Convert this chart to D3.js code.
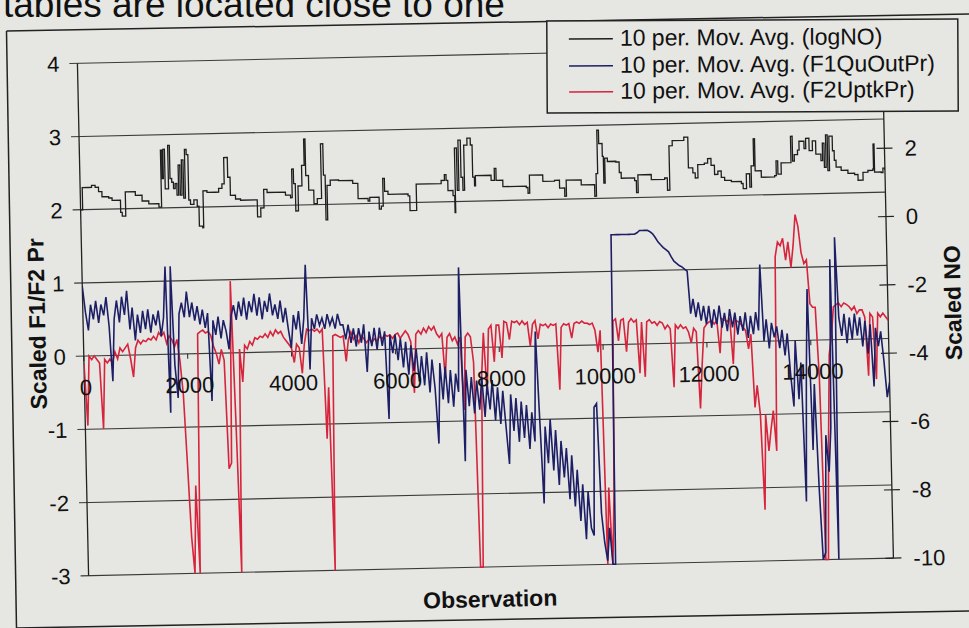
<!DOCTYPE html>
<html><head><meta charset="utf-8">
<script src="https://cdn.jsdelivr.net/npm/d3@7"></script>
<style>
body{margin:0;background:#e6e6e2;}
svg{display:block;font-family:"Liberation Sans",Arial,sans-serif;}
</style></head>
<body>
<svg id="chart" width="969" height="628"></svg>
<script>
// ---------- data ----------
const leftTicks = [-3, -2, -1, 0, 1, 2, 3, 4];
const rightTicks = [-10, -8, -6, -4, -2, 0, 2, 4];
const xTicks = [0, 2000, 4000, 6000, 8000, 10000, 12000, 14000];
const seriesNames = ["10 per. Mov. Avg. (logNO)", "10 per. Mov. Avg. (F1QuOutPr)", "10 per. Mov. Avg. (F2UptkPr)"];
const seriesColors = ["#1e1e1e", "#1d1f66", "#d6243c"];
const obsStep = 50; // F1 / F2 sampled every 50 observations

const f1Values = [
 0.95,0.6,0.35,0.7,0.5,0.75,0.45,0.7,0.55,0.8,0.4,-0.35,0.5,0.75,0.45,0.8,0.55,0.88,0.35,0.65,
 0.2,0.55,0.3,0.6,0.35,0.62,0.3,0.55,0.4,0.6,0.25,0.5,1.2,-0.8,1.2,-0.15,-0.6,0.55,0.7,0.5,
 0.85,0.5,0.7,0.45,0.65,0.4,0.6,0.35,0.55,-0.65,0.45,0.25,0.5,0.2,0.45,0.3,0.05,0.5,0.65,0.45,
 0.7,0.5,0.75,0.45,0.7,0.55,0.8,0.5,0.75,0.45,0.7,0.55,0.8,0.5,0.65,0.45,0.7,0.4,0.6,0.3,
 0.05,0.5,0.3,0.55,0.1,0.45,1.18,-0.25,0.45,0.3,0.5,0.35,0.45,0.3,0.5,0.35,0.45,0.3,0.5,0.35,
 0.35,0.15,0.35,0.1,0.3,0.05,0.3,0.1,0.35,-0.3,0.25,0.05,0.3,0.0,0.3,0.05,0.25,-0.95,0.2,-0.05,
 0.2,-0.15,0.15,-0.25,0.1,-0.35,0.05,-0.3,0.0,-0.45,-0.1,-0.5,-0.05,-0.6,-0.15,-0.55,-1.3,-0.2,-0.7,-0.25,
 -0.75,-0.3,-0.8,-0.35,-0.6,1.1,-1.55,-0.3,-0.8,-0.4,-0.9,-0.45,-0.85,-0.4,-0.95,-0.5,-0.85,-0.45,-1.0,-0.55,
 -1.05,-0.6,-1.1,-1.6,-0.65,-1.15,-0.7,-1.3,-0.75,-1.25,-0.8,-1.4,-0.9,-1.3,0.2,-1.0,-2.15,-1.1,-1.6,-1.0,
 -1.7,-1.15,-1.9,-1.3,-1.8,-1.4,-2.1,-1.5,-2.2,-1.7,-2.4,-1.9,-2.65,-2.0,-2.5,-2.6,-0.85,-0.8,-2.3,-2.7,
 -2.95,-2.5,-3.0,-3.0,1.5,1.5,1.5,1.5,1.5,1.5,1.5,1.5,1.5,1.5,1.52,1.55,1.55,1.55,1.55,1.53,
 1.5,1.45,1.39,1.35,1.31,1.28,1.25,1.18,1.12,1.09,1.06,1.04,1.01,0.98,0.4,0.6,0.35,0.55,0.3,0.5,
 0.25,0.5,0.2,0.45,0.25,0.5,0.2,0.4,0.15,0.45,0.2,0.4,0.1,0.35,0.15,0.4,0.05,0.35,0.1,0.4,
 0.15,1.05,0.0,0.3,-0.1,0.25,0.05,0.2,-0.1,0.15,-0.2,0.1,-0.47,-0.9,0.0,-0.8,-0.3,-2.2,-0.5,0.7,
 -1.5,-0.6,-2.0,-3.0,-2.9,-1.3,-1.8,-1.2,1.1,-3.0,1.4,0.3,0.05,0.35,-0.05,0.3,0.0,0.35,0.05,0.3,
 -0.1,0.25,-0.2,0.2,-0.65,0.15,-0.1,0.1,-0.3,-0.8,-0.6
];

const f2Values = [
 -0.1,-0.95,0.0,-0.05,0.0,-0.05,-0.1,-1.0,-0.05,-0.1,-0.05,-0.1,0.05,-0.05,0.1,0.05,0.1,0.15,-0.05,-0.3,
 0.1,0.2,0.15,0.2,0.18,0.22,0.2,0.25,0.2,0.3,0.25,0.3,0.15,0.25,0.2,0.1,0.2,-0.1,-0.55,-1.5,
 -2.5,-3.0,-1.8,-3.0,0.27,0.3,0.32,0.28,0.3,0.25,0.1,0.0,-0.15,0.05,-0.1,-1.58,-1.5,0.98,-0.9,-3.0,
 0.05,-0.4,0.1,0.05,0.15,0.1,0.2,0.18,0.22,0.2,0.25,0.2,0.28,0.22,0.3,0.25,0.28,0.2,0.15,0.1,
 0.05,-0.15,0.1,0.05,-0.3,0.1,0.3,0.28,0.3,0.27,0.3,0.25,0.3,-1.2,-0.5,-3.0,0.2,0.22,0.2,0.18,
 0.2,-0.15,0.15,0.25,0.15,0.2,0.1,0.2,0.15,0.1,0.15,0.1,0.15,0.12,0.18,0.15,0.2,0.18,0.2,0.15,
 0.2,0.22,0.15,0.2,0.25,0.2,0.1,-0.6,0.2,0.25,0.2,0.28,0.22,0.3,0.25,0.3,0.2,0.15,0.2,-0.4,
 0.15,0.2,0.1,0.15,0.05,0.15,-0.85,0.15,0.2,0.15,-0.2,-3.0,-3.0,-0.4,0.2,-0.65,0.25,0.3,-0.2,0.3,
 0.3,-0.15,0.35,0.33,0.1,0.35,0.33,0.35,0.3,0.35,0.3,0.33,0.0,0.3,0.35,0.1,0.3,0.28,0.3,0.25,
 0.3,0.28,0.3,-0.6,0.25,0.3,0.28,0.3,0.1,0.3,0.32,0.3,0.33,0.3,0.3,0.28,0.3,0.2,-0.1,0.2,
 -3.0,-1.95,-3.0,-2.0,0.32,0.35,0.05,0.33,0.35,-0.1,0.3,0.35,0.3,0.33,-0.4,0.3,-0.45,0.3,0.33,0.28,
 0.3,0.25,0.3,0.28,0.2,0.25,0.2,-0.6,0.25,0.2,0.25,0.2,0.22,0.15,0.0,0.2,0.15,-0.9,-0.3,0.2,
 0.25,0.28,0.3,0.25,0.3,-0.15,0.32,0.3,0.28,0.32,-0.3,0.3,0.28,0.25,0.2,0.15,-0.1,0.1,-0.9,-0.6,
 -1.0,-2.3,-1.0,-1.5,-1.2,-0.95,-1.5,1.15,1.35,1.3,1.4,1.1,1.35,1.0,1.3,1.72,1.56,1.2,1.05,1.1,
 0.5,0.45,0.45,-0.5,-3.0,-3.0,-1.4,-0.2,0.05,0.45,0.48,0.5,0.45,0.5,0.48,0.45,0.4,0.45,0.35,0.4,
 0.4,0.3,-0.5,0.35,0.3,-0.55,0.35,0.3,0.35,0.3,0.25
];

const logNOObs = [
 0,40,160,220,289,353,417,546,610,771,
 800,867,1060,1188,1316,1510,1561,1587,1606,1638,
 1702,1734,1766,1798,1830,1863,1895,1927,1959,1991,
 2023,2055,2087,2119,2184,2248,2280,2344,2363,2440,
 2601,2665,2730,2775,2826,2845,2890,2987,3083,3372,
 3404,3468,3532,3597,3950,4047,4079,4111,4143,4194,
 4271,4322,4348,4400,4496,4560,4644,4689,4721,4753,
 4817,4978,5250,5347,5539,5571,5751,5790,5828,5860,
 5924,6310,6342,6470,6952,7016,7048,7080,7176,7208,
 7221,7260,7292,7337,7369,7401,7465,7529,7562,7594,
 7613,7915,7979,8011,8139,8589,8621,8653,8910,9134,
 9230,9327,9359,9648,9905,9937,9969,10001,10065,10084,
 10110,10161,10322,10386,10421,10678,10710,10742,10999,11256,
 11307,11352,11416,11641,11692,11718,11802,11846,11898,12026,
 12090,12155,12219,12283,12347,12411,12540,12732,12764,12829,
 12893,12925,12976,13002,13118,13375,13407,13439,13503,13695,
 13727,13760,13824,13856,13952,13985,14049,14113,14177,14241,
 14273,14305,14337,14370,14402,14434,14498,14530,14562,14658,
 14787,14915,14979,15076,15172,15268,15281,15300,15429,15461,
 15500
];
const logNOValues = [
 0.71,1.36,1.36,1.42,1.36,1.23,1.08,1.04,0.97,0.61,
 0.50,1.21,1.10,0.93,0.84,0.74,2.41,1.57,2.43,1.27,
 2.54,1.57,1.46,1.27,1.42,1.08,1.96,1.08,2.11,0.99,
 2.41,2.26,0.93,0.80,0.93,0.74,0.16,0.11,1.19,1.14,
 1.14,1.25,1.38,2.15,2.15,1.57,1.04,0.93,0.89,0.89,
 0.39,0.65,1.19,1.10,1.01,0.93,1.77,1.34,0.54,1.27,
 1.87,2.64,1.57,1.14,0.74,0.89,2.49,1.57,0.26,1.27,
 1.42,1.40,1.31,0.86,0.78,0.89,0.54,0.63,1.44,1.06,
 0.97,0.91,0.48,1.25,1.34,1.51,1.34,1.04,0.89,0.39,
 2.28,1.04,2.51,1.42,1.04,2.36,2.56,2.36,1.42,1.16,
 1.46,1.31,1.66,1.31,1.12,1.08,0.91,1.44,1.25,1.27,
 1.04,0.80,1.27,1.12,0.78,1.44,2.71,2.32,1.94,1.16,
 1.89,1.79,1.77,1.46,1.29,1.21,0.86,1.38,1.23,1.27,
 0.91,2.21,2.36,2.45,2.45,1.55,1.40,1.25,1.64,1.68,
 1.81,1.61,1.34,1.44,1.25,1.16,1.12,1.06,0.91,1.34,
 0.95,1.57,2.36,1.42,1.23,1.27,1.70,1.31,1.64,2.41,
 1.68,1.87,2.00,2.26,2.04,2.34,1.98,2.26,1.87,1.87,
 1.68,2.19,1.48,2.43,1.38,2.39,1.96,1.68,1.48,1.38,
 1.29,1.25,1.08,1.31,1.36,1.40,2.13,1.31,1.29,1.42,
 1.36
];

// ---------- layout ----------
const W = 969, H = 628;
const plot = {left: 83, right: 888, top: 54.5, bottom: 567};
const bg = "#e6e6e2";
const svg = d3.select("#chart");
svg.append("rect").attr("width", W).attr("height", H).attr("fill", bg);

// scanned page decorations
svg.append("text").attr("x", 3).attr("y", 17).attr("font-size", 37)
  .attr("fill", "#111").text("tables are located close to one");
svg.append("line").attr("x1", 6.5).attr("y1", 31).attr("x2", 969).attr("y2", 14)
  .attr("stroke", "#222").attr("stroke-width", 1.5);
svg.append("line").attr("x1", 6.5).attr("y1", 31).attr("x2", 16.5).attr("y2", 628)
  .attr("stroke", "#222").attr("stroke-width", 1.5);
svg.append("line").attr("x1", 16.5).attr("y1", 628).attr("x2", 969).attr("y2", 611)
  .attr("stroke", "#222").attr("stroke-width", 1.5);

const x = d3.scaleLinear().domain([0, 15500]).range([plot.left, plot.right]);
const yL = d3.scaleLinear().domain([-3, 4]).range([plot.bottom, plot.top]);
const yR = d3.scaleLinear().domain([-10, 5]).range([plot.bottom, plot.top]);

const g = svg.append("g").attr("transform", "rotate(-1.25 485 315)");

// gridlines
g.append("g").selectAll("line").data(leftTicks).join("line")
  .attr("x1", plot.left - 8).attr("x2", plot.right)
  .attr("y1", d => yL(d)).attr("y2", d => yL(d))
  .attr("stroke", "#3a3a3a").attr("stroke-width", 1.1);

// axes lines
g.append("line").attr("x1", plot.left).attr("x2", plot.left)
  .attr("y1", plot.top).attr("y2", plot.bottom).attr("stroke", "#222").attr("stroke-width", 1.3);
g.append("line").attr("x1", plot.right).attr("x2", plot.right)
  .attr("y1", plot.top).attr("y2", plot.bottom).attr("stroke", "#222").attr("stroke-width", 1.3);

// right ticks
g.append("g").selectAll("line").data(rightTicks).join("line")
  .attr("x1", plot.right - 8).attr("x2", plot.right + 8)
  .attr("y1", d => yR(d)).attr("y2", d => yR(d))
  .attr("stroke", "#222").attr("stroke-width", 1.2);

// x ticks on zero line
g.append("g").selectAll("line").data(xTicks).join("line")
  .attr("x1", d => x(d)).attr("x2", d => x(d))
  .attr("y1", yL(0)).attr("y2", yL(0) + 5)
  .attr("stroke", "#222").attr("stroke-width", 1);

const clipId = "plotclip";
g.append("clipPath").attr("id", clipId).append("rect")
  .attr("x", plot.left).attr("y", plot.top - 2)
  .attr("width", plot.right - plot.left).attr("height", plot.bottom - plot.top + 3);

const series = g.append("g").attr("clip-path", `url(#${clipId})`);

const lineLog = d3.line().x((d, i) => x(logNOObs[i])).y(d => yR(d)).curve(d3.curveStepAfter);
series.append("path").datum(logNOValues).attr("d", lineLog)
  .attr("fill", "none").attr("stroke", seriesColors[0]).attr("stroke-width", 1.3);

const lineStep = scale => d3.line().x((d, i) => x(i * obsStep)).y(d => scale(d));
series.append("path").datum(f2Values).attr("d", lineStep(yL))
  .attr("fill", "none").attr("stroke", seriesColors[2]).attr("stroke-width", 1.6);
series.append("path").datum(f1Values).attr("d", lineStep(yL))
  .attr("fill", "none").attr("stroke", seriesColors[1]).attr("stroke-width", 1.6);

// tick labels
const labelFont = 22;
g.append("g").selectAll("text").data(leftTicks).join("text")
  .attr("x", plot.left - 18).attr("y", d => yL(d) + 8)
  .attr("text-anchor", "end").attr("font-size", labelFont).attr("fill", "#111")
  .text(d => d);
g.append("g").selectAll("text").data(rightTicks).join("text")
  .attr("x", plot.right + 20).attr("y", d => yR(d) + 8)
  .attr("text-anchor", "start").attr("font-size", labelFont).attr("fill", "#111")
  .text(d => d);
g.append("g").selectAll("text").data(xTicks).join("text")
  .attr("x", d => x(d) + 1.5).attr("y", yL(0) + 39)
  .attr("text-anchor", "middle").attr("font-size", labelFont).attr("fill", "#111")
  .text(d => d);

// axis titles
g.append("text").attr("transform", `translate(45,314) rotate(-90)`)
  .attr("text-anchor", "middle").attr("font-size", 23).attr("font-weight", "bold")
  .attr("fill", "#111").text("Scaled F1/F2 Pr");
g.append("text").attr("transform", `translate(961,313) rotate(-90)`)
  .attr("text-anchor", "middle").attr("font-size", 23).attr("font-weight", "bold")
  .attr("fill", "#111").text("Scaled NO");
g.append("text").attr("x", 484).attr("y", 607)
  .attr("text-anchor", "middle").attr("font-size", 23).attr("font-weight", "bold")
  .attr("fill", "#111").text("Observation");

// legend
const lg = svg.append("g").attr("transform", "rotate(-0.3 752 66)");
lg.append("rect").attr("x", 547).attr("y", 20).attr("width", 411).attr("height", 92)
  .attr("fill", bg).attr("stroke", "#222").attr("stroke-width", 1.5);
const rowY = [38, 65, 91];
lg.selectAll("line.leg").data(seriesNames).join("line")
  .attr("x1", 569).attr("x2", 613)
  .attr("y1", (d, i) => rowY[i]).attr("y2", (d, i) => rowY[i])
  .attr("stroke", (d, i) => seriesColors[i]).attr("stroke-width", 1.4);
lg.selectAll("text").data(seriesNames).join("text")
  .attr("x", 620).attr("y", (d, i) => rowY[i] + 7)
  .attr("font-size", 23).attr("fill", "#111").text(d => d);
</script>
</body></html>
